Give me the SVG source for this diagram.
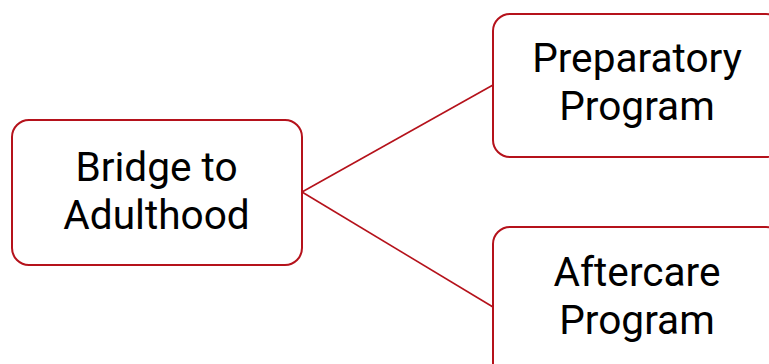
<svg xmlns="http://www.w3.org/2000/svg" width="769" height="364" viewBox="0 0 769 364">
<style>
.box{fill:#fff;stroke:#b5121b;stroke-width:2}
.lbl{font-family:Roboto,"Liberation Sans",sans-serif;font-size:40.6px;fill:#000;text-anchor:middle}
.conn{stroke:#b5121b;stroke-width:1.6;fill:none}
</style>
<rect width="769" height="364" fill="#fff"/>
<g id="connectors">
<line class="conn" x1="302" y1="192" x2="493" y2="85"/>
<line class="conn" x1="302" y1="192" x2="493" y2="307"/>
</g>
<g id="bridge">
<rect class="box" x="12" y="120" width="290" height="145" rx="17"/>
<text class="lbl" x="156.5" y="180.5">Bridge to</text>
<text class="lbl" x="156.5" y="228.5">Adulthood</text>
</g>
<g id="preparatory">
<rect class="box" x="493" y="14" width="290" height="143" rx="17"/>
<text class="lbl" x="637" y="72">Preparatory</text>
<text class="lbl" x="637" y="120">Program</text>
</g>
<g id="aftercare">
<rect class="box" x="493" y="227" width="290" height="160" rx="17"/>
<text class="lbl" x="637" y="286">Aftercare</text>
<text class="lbl" x="637" y="333.5">Program</text>
</g>
</svg>
